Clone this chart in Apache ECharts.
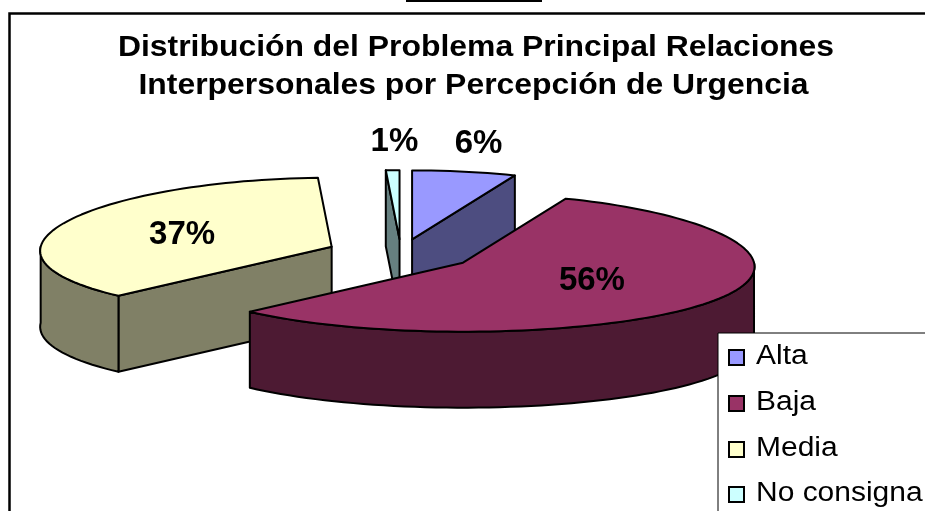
<!DOCTYPE html>
<html>
<head>
<meta charset="utf-8">
<style>html,body{margin:0;padding:0;background:#fff}#c{width:925px;height:511px}</style>
<script src="https://cdn.jsdelivr.net/npm/echarts@6/dist/echarts.min.js"></script>
</head>
<body>
<div id="c"></div>
<script>
const titleLines = ['Distribución del Problema Principal Relaciones', 'Interpersonales por Percepción de Urgencia'];
const categories = ['Alta', 'Baja', 'Media', 'No consigna'];
const values = [6.1, 56.3, 36.8, 0.8];
const topColors = ['#9999ff', '#993366', '#ffffcc', '#ccffff'];
const sideColors = ['#4d4d80', '#4d1a33', '#808066', '#668080'];
const explode = [0.2, 0.255, 0.255, 0.2];
const labelFactor = [[1.2, 1.41], [0.53, 0.47], [0.55, 0.5], [0.7, 1.41]];
const paintOrder = [2, 0, 3, 1];
const cx = 401, cy = 253, rx = 291, ry = 69, depth = 76, perspective = 0.06;
const legendRows = [357, 403, 449, 494];
const FONT = '"Liberation Sans", Arial, sans-serif';

const total = values.reduce((s, v) => s + v, 0);
const rad = d => d * Math.PI / 180;
const startAngles = values.map((_, i) => values.slice(0, i).reduce((s, v) => s + v, 0) / total * 360);
const rim = (ox, oy, deg) => {
  const t = rad(deg);
  return [ox + rx * Math.sin(t) * (1 - perspective * Math.cos(t)), oy - ry * Math.cos(t)];
};

function arcPoints(ox, oy, a0, a1) {
  const n = Math.max(2, Math.ceil((a1 - a0) / 2));
  const pts = [];
  for (let k = 0; k <= n; k++) pts.push(rim(ox, oy, a0 + (a1 - a0) * k / n));
  return pts;
}
const edgeStyle = fill => ({ fill, stroke: '#000', lineWidth: 2, lineJoin: 'round' });

function sliceRender(i) {
  return function (params, api) {
    const v = api.value(0);
    const a0 = startAngles[i], a1 = a0 + v / total * 360, mid = (a0 + a1) / 2;
    const ox = cx + explode[i] * rx * Math.sin(rad(mid));
    const oy = cy - explode[i] * ry * Math.cos(rad(mid));
    const children = [];
    const face = ang => {
      const p = rim(ox, oy, ang);
      children.push({ type: 'polygon', shape: { points: [[ox, oy], p, [p[0], p[1] + depth], [ox, oy + depth]] }, style: edgeStyle(sideColors[i]) });
    };
    if (Math.sin(rad(a0)) < -1e-6) face(a0);
    if (Math.sin(rad(a1)) > 1e-6) face(a1);
    const r0 = Math.max(a0, 90), r1 = Math.min(a1, 270);
    if (r1 > r0) {
      const top = arcPoints(ox, oy, r0, r1);
      const bottom = top.map(p => [p[0], p[1] + depth]).reverse();
      children.push({ type: 'polygon', shape: { points: top.concat(bottom) }, style: edgeStyle(sideColors[i]) });
    }
    children.push({ type: 'polygon', shape: { points: [[ox, oy]].concat(arcPoints(ox, oy, a0, a1)) }, style: edgeStyle(topColors[i]) });
    children.push({
      type: 'text', z2: 10,
      style: {
        text: Math.round(v) + '%',
        x: ox + labelFactor[i][0] * rx * Math.sin(rad(mid)),
        y: oy - labelFactor[i][1] * ry * Math.cos(rad(mid)),
        align: 'center', verticalAlign: 'middle', fill: '#000',
        font: 'bold 33px ' + FONT
      }
    });
    return { type: 'group', children };
  };
}

const titleItems = titleLines.map((t, i) => ({
  type: 'text', z: 5, silent: true, x: [476, 473.5][i], y: 48 + i * 38, scaleX: 1.1,
  style: { text: t, font: 'bold 29px ' + FONT, fill: '#000', align: 'center', verticalAlign: 'middle' }
}));
const legendItems = categories.flatMap((c, i) => [
  { type: 'rect', z: 5, silent: true, shape: { x: 729, y: legendRows[i] - 7, width: 15, height: 15 }, style: { fill: topColors[i], stroke: '#000', lineWidth: 2 } },
  { type: 'text', z: 5, silent: true, x: 756, y: legendRows[i], scaleX: 1.11, style: { text: c, font: '27px ' + FONT, fill: '#000', align: 'left', verticalAlign: 'middle' } }
]);

const chart = echarts.init(document.getElementById('c'), null, { renderer: 'canvas' });
chart.setOption({
  animation: false,
  backgroundColor: '#fff',
  graphic: [
    { type: 'rect', z: 0, silent: true, shape: { x: 9.5, y: 13.5, width: 2000, height: 2000 }, style: { fill: 'transparent', stroke: '#000', lineWidth: 2.5 } },
    { type: 'rect', z: 0, silent: true, shape: { x: 406, y: 0, width: 136, height: 2 }, style: { fill: '#000' } },
    { type: 'rect', z: 3, silent: true, shape: { x: 718, y: 333, width: 600, height: 600 }, style: { fill: '#fff', stroke: '#000', lineWidth: 1 } },
    ...titleItems,
    ...legendItems
  ],
  series: paintOrder.map(i => ({
    type: 'custom',
    name: categories[i],
    coordinateSystem: 'none',
    itemStyle: { color: topColors[i] },
    renderItem: sliceRender(i),
    data: [[values[i]]],
    silent: true
  }))
});
</script>
</body>
</html>
